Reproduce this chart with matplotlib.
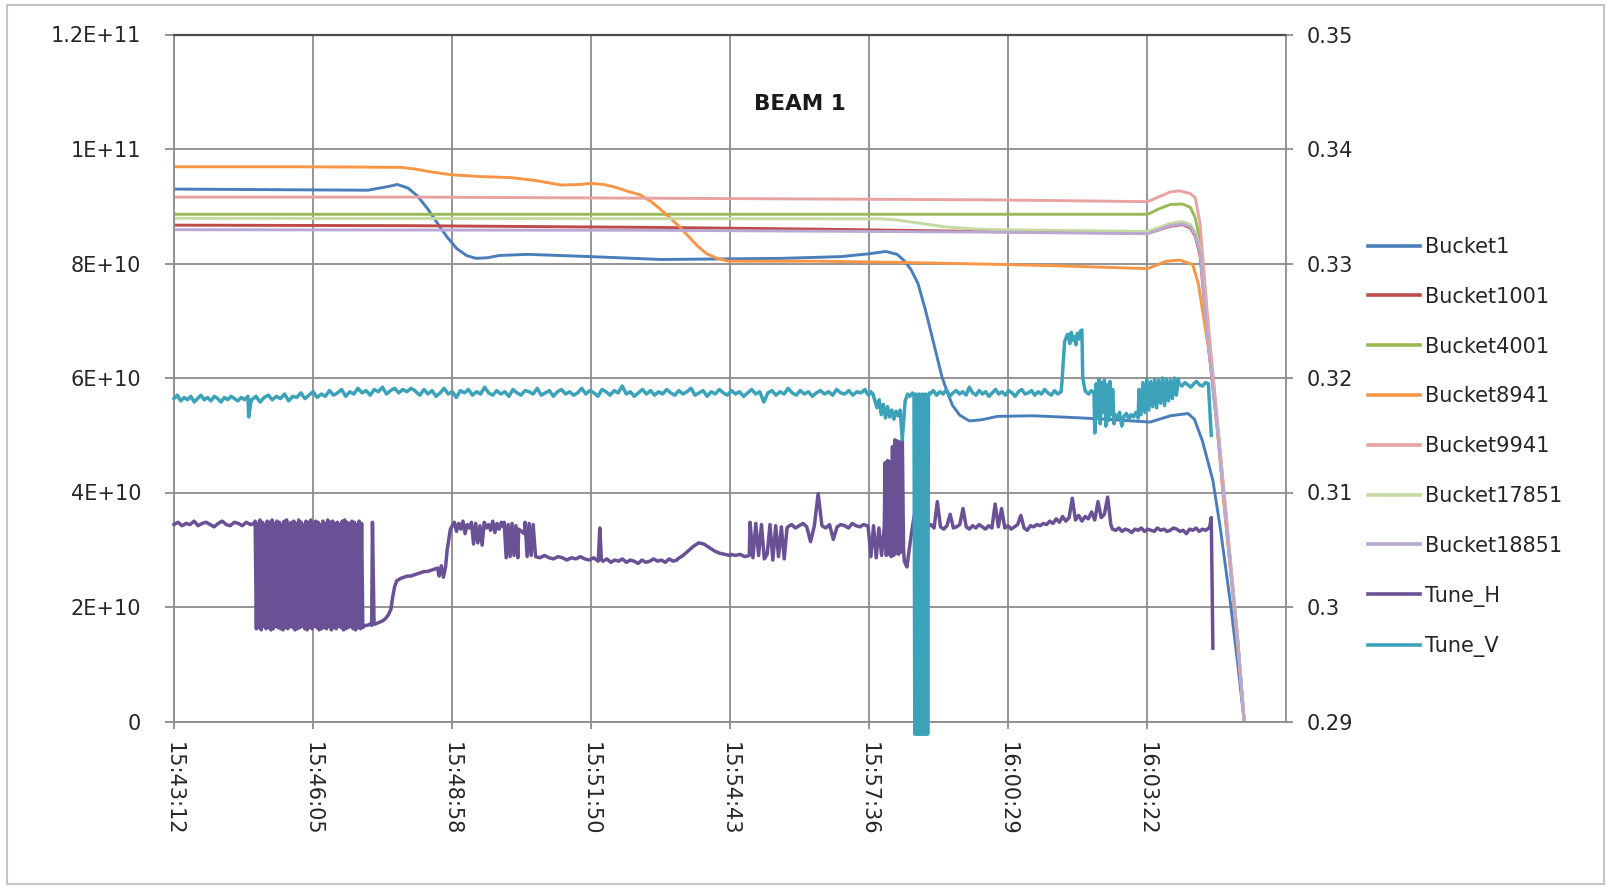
import numpy as np
import matplotlib
matplotlib.use("Agg")
import matplotlib.pyplot as plt
from matplotlib.patches import Rectangle

plt.rcParams['font.family'] = ['DejaVu Sans']

# ---------------- data ----------------
# time axis: seconds after 15:43:12; category labels every 173 s
tick_labels = ["15:43:12", "15:46:05", "15:48:58", "15:51:50",
               "15:54:43", "15:57:36", "16:00:29", "16:03:22"]
tick_step = 173

left_ticks = [0, 2e10, 4e10, 6e10, 8e10, 1e11, 1.2e11]
left_tick_labels = ["0", "2E+10", "4E+10", "6E+10", "8E+10", "1E+11", "1.2E+11"]
right_ticks = [0.29, 0.30, 0.31, 0.32, 0.33, 0.34, 0.35]
right_tick_labels = ["0.29", "0.3", "0.31", "0.32", "0.33", "0.34", "0.35"]

# bucket intensities (units of 1e9)
b1_t = [0, 120, 241, 265, 278, 291, 303, 316, 328, 340, 352, 364, 376, 390, 405, 440, 519, 606, 756, 830,
        865, 886, 900, 908, 917, 926, 935, 943, 950, 956, 963, 969, 978, 990, 1005, 1025, 1070, 1118, 1160, 1215,
        1240, 1262, 1270, 1280, 1293, 1302, 1315, 1324, 1332]
b1_v = [93.0, 92.9, 92.8, 93.4, 93.8, 93.2, 91.8, 89.5, 87.0, 84.6, 82.6, 81.4, 80.9, 81.0, 81.4, 81.6, 81.2, 80.7, 80.9, 81.2,
        81.7, 82.1, 81.6, 80.6, 79.0, 76.5, 72.0, 67.5, 63.5, 60.1, 57.3, 55.2, 53.5, 52.5, 52.7, 53.3, 53.4, 53.1, 52.8, 52.3,
        53.4, 53.8, 52.8, 49.0, 42.1, 34.0, 20.5, 10.0, 0.0]

b1001_t = [0, 300, 600, 800, 1000, 1212, 1240, 1255, 1265, 1271, 1277, 1286, 1300, 1313, 1324, 1332]
b1001_v = [86.7, 86.6, 86.3, 86.0, 85.6, 85.3, 86.5, 86.8, 86.2, 84.8, 81.5, 67.5, 49.0, 29.5, 13.8, 0.0]

b4001_t = [0, 400, 800, 1212, 1225, 1240, 1255, 1265, 1271, 1277, 1286, 1300, 1313, 1324, 1332]
b4001_v = [88.6, 88.6, 88.6, 88.6, 89.5, 90.3, 90.4, 89.8, 88.0, 84.0, 69.5, 50.0, 30.5, 14.0, 0.0]

b8941_t = [0, 150, 282, 300, 320, 345, 380, 419, 450, 482, 505, 519, 535, 550, 565, 580, 594, 606, 617, 628,
           640, 652, 663, 676, 690, 720, 800, 900, 1008, 1100, 1212, 1235, 1252, 1268, 1275, 1284, 1293, 1306, 1320, 1332]
b8941_v = [96.9, 96.9, 96.8, 96.5, 96.0, 95.5, 95.2, 95.0, 94.5, 93.7, 93.8, 94.0, 93.8, 93.3, 92.6, 92.0, 90.8, 89.4, 88.0, 86.6,
           84.8, 83.0, 81.7, 80.9, 80.4, 80.4, 80.4, 80.2, 79.9, 79.6, 79.1, 80.4, 80.6, 79.8, 76.4, 68.3, 60.2, 39.0, 19.0, 0.0]

b9941_t = [0, 300, 600, 900, 1030, 1212, 1225, 1240, 1252, 1265, 1271, 1277, 1286, 1300, 1313, 1324, 1332]
b9941_v = [91.6, 91.6, 91.4, 91.2, 91.1, 90.8, 91.6, 92.5, 92.7, 92.2, 91.5, 87.0, 71.4, 50.5, 31.0, 14.5, 0.0]

b17851_t = [0, 880, 900, 930, 960, 1000, 1030, 1212, 1240, 1255, 1265, 1271, 1277, 1286, 1300, 1313, 1324, 1332]
b17851_v = [87.9, 87.8, 87.6, 87.0, 86.4, 86.0, 85.9, 85.6, 87.0, 87.3, 86.8, 85.5, 82.5, 68.5, 49.5, 30.0, 14.0, 0.0]

b18851_t = [0, 600, 1000, 1212, 1240, 1255, 1265, 1271, 1277, 1286, 1300, 1313, 1324, 1332]
b18851_v = [85.9, 85.8, 85.5, 85.2, 86.6, 86.9, 86.4, 85.0, 82.0, 68.0, 49.2, 29.8, 14.0, 0.0]

# tunes: segments of (t_start, t_end, samples, evenly spaced in time)
tune_h_segments = [
    (0, 100, [.3072, .3074, .3071, .3073, .3072, .3075, .3071, .3073, .3074, .3072, .3070, .3073, .3075, .3072,
              .3071, .3074, .3073, .3071, .3074, .3072, .3073]),
    (101, 235, [.3075, .2981, .3073, .2982, .3076, .2980, .3074, .2983, .3072, .2981, .3075, .2982, .3074, .2980,
                .3076, .2981, .3073, .2983, .3075, .2982, .3074, .2981, .3072, .2980, .3075, .2982, .3076, .2981,
                .3073, .2983, .3074, .2982, .3075, .2980, .3073, .2981, .3076, .2982, .3074, .2983, .3072, .2981,
                .3075, .2980, .3074, .2982, .3076, .2981, .3073, .2983, .3075, .2982, .3074, .2980, .3072, .2981,
                .3075, .2982, .3073, .2981, .3076, .2983, .3074, .2980, .3075, .2982, .3073, .2981, .3074, .2983,
                .3072, .2982, .3075, .2980, .3076, .2981, .3074, .2982, .3073, .2983, .3075, .2981, .3074, .2980,
                .3072, .2982, .3075, .2981, .3073, .2982]),
    (236, 246, [.2983, .2984, .2984, .2985, .2984]),
    (247, 249, [.3074, .2985]),
    (250, 270, [.2985, .2986, .2987, .2988, .2990, .2993, .2998]),
    (272, 280, [.3008, .3018, .3023, .3024]),
    (282, 328, [.3025, .3026, .3027, .3027, .3028, .3029, .3030, .3031, .3031, .3032, .3033, .3034]),
    (330, 338, [.3027, .3036, .3026, .3035]),
    (340, 348, [.3050, .3068, .3073]),
    (349, 410, [.3074, .3066, .3073, .3068, .3075, .3064, .3072, .3069, .3074, .3055, .3073, .3056, .3071, .3054,
                .3074, .3069, .3072, .3067, .3075, .3065, .3073, .3068, .3074, .3070]),
    (411, 428, [.3074, .3043, .3072, .3044, .3073, .3045, .3071, .3043]),
    (429, 436, [.3068, .3064]),
    (437, 447, [.3074, .3044, .3073, .3045, .3072]),
    (450, 528, [.3044, .3043, .3045, .3043, .3042, .3044, .3043, .3041, .3043, .3042, .3044, .3042, .3041, .3043, .3040]),
    (530, 532, [.3069, .3041]),
    (534, 626, [.3040, .3042, .3039, .3041, .3040, .3042, .3039, .3041, .3040, .3038, .3041, .3039, .3040, .3042,
                .3040, .3041, .3039, .3042, .3040, .3041]),
    (627, 692, [.3042, .3045, .3049, .3053, .3056, .3055, .3052, .3049, .3047, .3046, .3045]),
    (693, 716, [.3046, .3045, .3046, .3044, .3045]),
    (717, 763, [.3074, .3043, .3073, .3045, .3072, .3042, .3046, .3072, .3041, .3071, .3044, .3070, .3042, .3069]),
    (764, 863, [.3070, .3072, .3069, .3071, .3073, .3070, .3057, .3071, .3099, .3071, .3069, .3072, .3059, .3070,
                .3072, .3071, .3069, .3073, .3071, .3070, .3072, .3071]),
    (864, 884, [.3070, .3044, .3071, .3043, .3069, .3045, .3070]),
    (885, 908, [.3126, .3045, .3128, .3046, .3127, .3044, .3140, .3045, .3146, .3047, .3145, .3046, .3144, .3048,
                .3146, .3050]),
    (909, 925, [.3040, .3035, .3052, .3068, .3082, .3068]),
    (926, 1166, [.3069, .3071, .3068, .3070, .3072, .3069, .3092, .3070, .3068, .3071, .3081, .3069, .3070, .3072,
                 .3086, .3070, .3068, .3071, .3069, .3072, .3070, .3068, .3071, .3069, .3090, .3070, .3086, .3069,
                 .3071, .3068, .3070, .3072, .3080, .3069, .3067, .3071, .3070, .3072, .3071, .3073, .3072, .3075,
                 .3073, .3077, .3074, .3079, .3075, .3078, .3095, .3076, .3080, .3075, .3079, .3077, .3083, .3076,
                 .3092, .3078, .3081, .3096, .3072]),
    (1168, 1288, [.3068, .3067, .3069, .3066, .3068, .3067, .3065, .3068, .3067, .3069, .3066, .3068, .3067, .3066,
                  .3069, .3067, .3068, .3066, .3067, .3069, .3068, .3066, .3067, .3064, .3068, .3067, .3069, .3066,
                  .3068, .3067, .3069]),
    (1289, 1293, [.3070, .3078, .2964]),
]

tune_v_segments = [
    (0, 92, [.3182, .3185, .3180, .3183, .3181, .3184, .3179, .3182, .3185, .3181, .3183, .3180, .3184, .3182,
             .3179, .3183, .3181, .3184, .3182, .3180, .3183, .3181, .3184]),
    (93, 96, [.3166, .3181]),
    (97, 300, [.3181, .3184, .3179, .3183, .3185, .3181, .3184, .3182, .3186, .3180, .3184, .3183, .3187, .3182,
               .3185, .3188, .3183, .3186, .3184, .3189, .3185, .3187, .3190, .3184, .3188, .3186, .3191, .3187,
               .3189, .3185, .3190, .3188, .3192, .3186, .3189, .3191, .3187, .3190, .3188, .3191, .3189]),
    (301, 860, [.3188, .3185, .3190, .3186, .3189, .3184, .3187, .3191, .3186, .3188, .3183, .3189, .3187, .3190,
                .3185, .3188, .3186, .3192, .3187, .3185,
                .3189, .3186, .3188, .3184, .3190, .3187, .3185, .3189, .3188, .3186, .3191, .3185, .3187, .3189,
                .3184, .3188, .3190, .3186, .3188, .3185,
                .3187, .3191, .3186, .3189, .3187, .3184, .3190, .3188, .3185, .3189, .3187, .3193, .3186, .3188,
                .3184, .3187, .3190, .3186, .3189, .3185,
                .3188, .3186, .3190, .3187, .3185, .3189, .3186, .3188, .3191, .3185, .3187, .3189, .3184, .3188,
                .3186, .3190, .3187, .3185, .3189, .3186,
                .3188, .3184, .3187, .3190, .3186, .3188, .3179, .3187, .3189, .3185, .3188, .3186, .3191, .3187,
                .3185, .3189, .3186, .3188, .3184, .3187,
                .3189, .3186, .3188, .3185, .3190, .3187, .3186, .3189, .3185, .3188, .3187, .3190]),
    (862, 909, [.3187, .3185, .3188, .3186, .3180, .3174, .3181, .3168, .3177, .3165, .3175, .3166, .3172, .3164,
                .3171, .3167, .3172, .3146, .3170]),
    (910, 919, [.3180, .3186, .3184, .3187]),
    (921, 940, [.3185, .2889, .3186, .2889, .3184, .2889, .3186, .2889, .3185, .2889, .3186, .2889, .3185, .2889,
                .3186, .2889, .3184, .2889, .3185, .3187]),
    (941, 1104, [.3186, .3189, .3185, .3188, .3186, .3190, .3184, .3187, .3189, .3186, .3188, .3185, .3192, .3187,
                 .3185, .3189, .3186, .3188, .3184, .3187, .3190, .3186, .3188, .3185, .3189, .3187, .3184, .3188,
                 .3190, .3186, .3187, .3189, .3185, .3188, .3186, .3190, .3187, .3185, .3189, .3186, .3188]),
    (1105, 1112, [.3195, .3232, .3238]),
    (1113, 1130, [.3238, .3230, .3240, .3233, .3236, .3229, .3239, .3234, .3241, .3242]),
    (1131, 1134, [.3200, .3189]),
    (1135, 1145, [.3188, .3186, .3189, .3187]),
    (1146, 1170, [.3152, .3195, .3165, .3199, .3160, .3196, .3170, .3198, .3158, .3194, .3163, .3197, .3168, .3190, .3160]),
    (1171, 1200, [.3168, .3165, .3170, .3158, .3167, .3169, .3164, .3168, .3166, .3170, .3165]),
    (1201, 1250, [.3190, .3168, .3196, .3170, .3199, .3172, .3197, .3175, .3199, .3174, .3198, .3178, .3200, .3176,
                  .3199, .3180, .3198, .3182, .3200, .3185, .3199]),
    (1251, 1291, [.3195, .3193, .3196, .3194, .3192, .3195, .3197, .3194, .3193, .3196, .3195, .3150]),
]

bucket_names = ["Bucket1", "Bucket1001", "Bucket4001", "Bucket8941", "Bucket9941", "Bucket17851", "Bucket18851"]
bucket_t = [b1_t, b1001_t, b4001_t, b8941_t, b9941_t, b17851_t, b18851_t]
bucket_v = [b1_v, b1001_v, b4001_v, b8941_v, b9941_v, b17851_v, b18851_v]
bucket_colors = ["#4A7EBB", "#BE4B48", "#98B954", "#F79646", "#E6A3A1", "#C5DAA0", "#B8A8D3"]
tune_names = ["Tune_H", "Tune_V"]
tune_colors = ["#6A5195", "#3BA2BA"]


def seg_xy(segs):
    ts, vs = [], []
    for t0, t1, vals in segs:
        ts.extend(np.linspace(t0, t1, len(vals)))
        vs.extend(vals)
    return np.array(ts), np.array(vs)


# ---------------- figure ----------------
W, H = 1607, 893
fig = plt.figure(figsize=(W / 100, H / 100), dpi=100)
fig.patch.set_facecolor("white")

ax_l, ax_r, ax_t, ax_b = 174, 1286, 34.5, 721.5
ax = fig.add_axes([ax_l / W, 1 - ax_b / H, (ax_r - ax_l) / W, (ax_b - ax_t) / H])
ax2 = ax.twinx()

grid_c = "#8c8c8c"
txt_c = "#262626"

lines = []
for name, t, v, c in zip(bucket_names, bucket_t, bucket_v, bucket_colors):
    ln, = ax.plot(t, np.array(v) * 1e9, color=c, lw=2.1, label=name, solid_joinstyle="round")
    lines.append(ln)

for name, segs, c in zip(tune_names, [tune_h_segments, tune_v_segments], tune_colors):
    t, v = seg_xy(segs)
    ln, = ax2.plot(t, v, color=c, lw=2.5, label=name, clip_on=False, solid_joinstyle="round")
    lines.append(ln)

ax.set_xlim(0, tick_step * 8)
ax.set_ylim(0, 1.2e11)
ax2.set_ylim(0.29, 0.35)

ax.set_xticks([i * tick_step for i in range(len(tick_labels))])
ax.set_xticklabels(tick_labels, rotation=270, fontsize=15, color=txt_c)
ax.set_yticks(left_ticks)
ax.set_yticklabels(left_tick_labels, fontsize=15, color=txt_c)
ax2.set_yticks(right_ticks)
ax2.set_yticklabels(right_tick_labels, fontsize=15, color=txt_c)

ax.grid(True, color=grid_c, lw=1.3)
ax.set_axisbelow(True)
ax.tick_params(axis="y", length=6.5, width=1.3, color=grid_c, pad=17)
ax.tick_params(axis="x", length=5, width=1.3, color=grid_c, pad=10)
ax2.tick_params(axis="y", length=5, width=1.3, color=grid_c, pad=10)

for s in ["left", "bottom", "right"]:
    ax.spines[s].set_color(grid_c)
    ax.spines[s].set_linewidth(1.3)
ax.spines["top"].set_color("#4d4d4d")
ax.spines["top"].set_linewidth(1.6)
for s in ax2.spines.values():
    s.set_visible(False)

fig.text(800 / W, 1 - 104.5 / H, "BEAM 1", ha="center", va="center",
         fontsize=15.5, fontweight="bold", color="#1a1a1a")

leg = fig.legend(handles=lines, labels=bucket_names + tune_names, loc="upper left",
                 bbox_to_anchor=(1368 / W, 1 - 237 / H), frameon=False, fontsize=15,
                 handlelength=2.5, handletextpad=0.25, labelspacing=1.43,
                 borderpad=0, borderaxespad=0)
for lh in leg.get_lines():
    lh.set_linewidth(2.6)
for tx in leg.get_texts():
    tx.set_color(txt_c)

fig.patches.append(Rectangle((7 / W, 1 - 884 / H), (1604 - 7) / W, (884 - 5) / H,
                             transform=fig.transFigure, fill=False,
                             edgecolor="#c4c4c4", lw=1.5))

fig.savefig("out.png", dpi=100, facecolor="white")
